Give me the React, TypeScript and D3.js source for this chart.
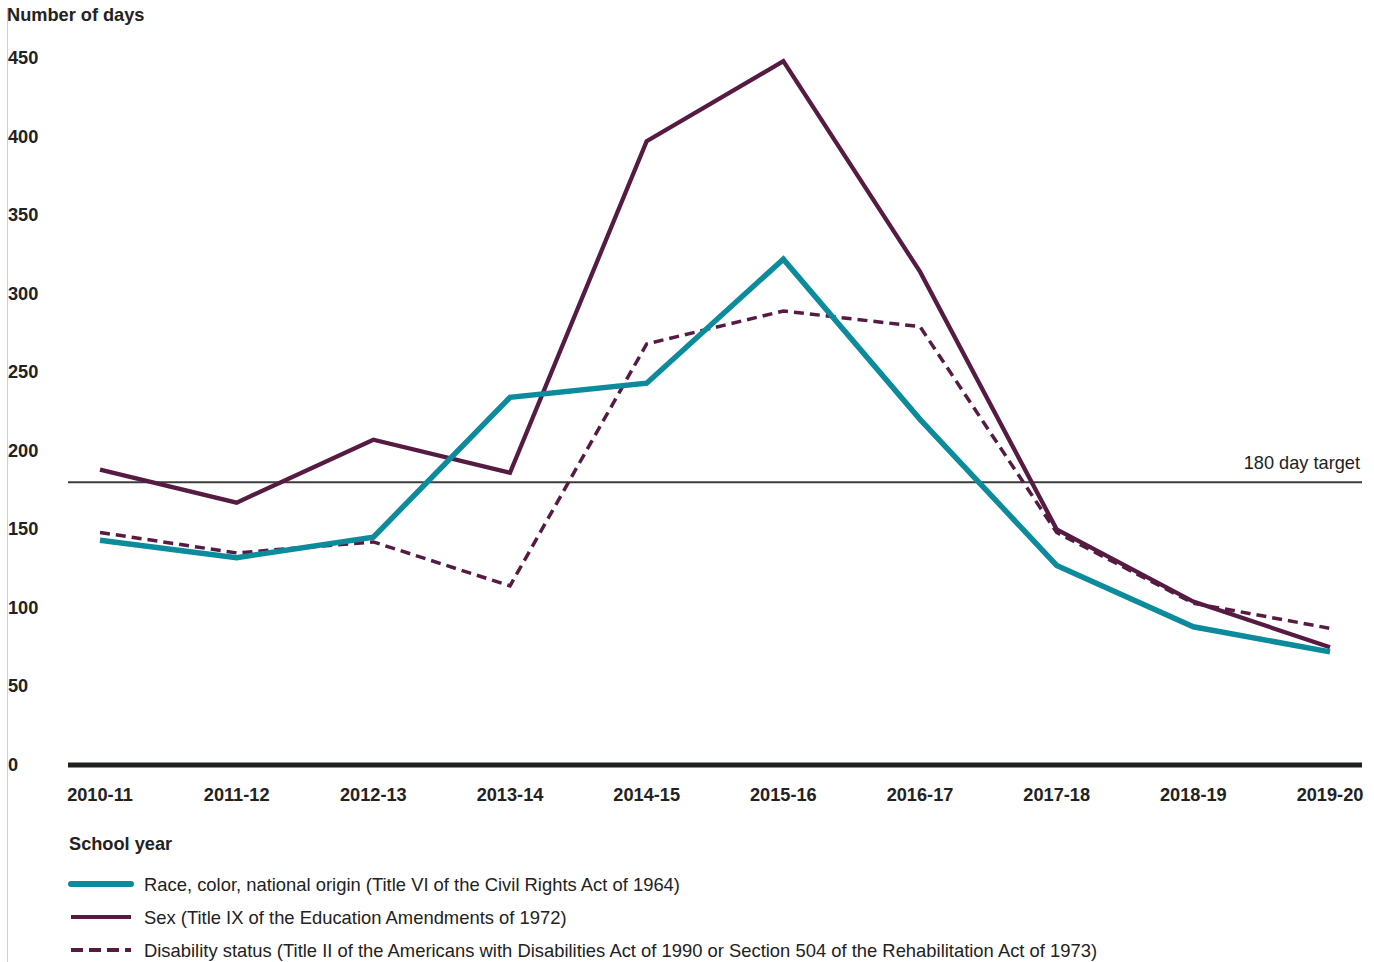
import React from "react";
import * as d3 from "d3";

const years = ["2010-11", "2011-12", "2012-13", "2013-14", "2014-15", "2015-16", "2016-17", "2017-18", "2018-19", "2019-20"];
const raceValues = [143, 132, 145, 234, 243, 322, 220, 127, 88, 72];
const sexValues = [188, 167, 207, 186, 397, 448, 314, 150, 104, 75];
const disabilityValues = [148, 135, 142, 114, 268, 289, 279, 148, 103, 87];
const yTicks = [0, 50, 100, 150, 200, 250, 300, 350, 400, 450];
const target = 180;

const TEAL = "#0b8b9b";
const PLUM = "#561b42";
const FONT = "'Liberation Sans', Arial, sans-serif";

const W = 1374;
const H = 962;

const App = () => {
  const x = d3.scalePoint<string>().domain(years).range([100, 1330]);
  const y = d3.scaleLinear().domain([0, 450]).range([765, 58]);

  const line = d3
    .line<number>()
    .x((d, i) => x(years[i]) as number)
    .y(d => y(d));

  const series = [
    { label: "Race, color, national origin (Title VI of the Civil Rights Act of 1964)", values: raceValues, color: TEAL, width: 5.5, dash: null },
    { label: "Sex (Title IX of the Education Amendments of 1972)", values: sexValues, color: PLUM, width: 4.3, dash: null },
    { label: "Disability status (Title II of the Americans with Disabilities Act of 1990 or Section 504 of the Rehabilitation Act of 1973)", values: disabilityValues, color: PLUM, width: 3.5, dash: "10,6" },
  ];

  return (
    <svg
      width={W}
      height={H}
      style={{ position: "absolute", left: 0, top: 0, fontFamily: FONT }}
    >
      <rect width={W} height={H} fill="#fff" />
      <line x1={7.5} x2={7.5} y1={8} y2={H} stroke="#d0d0d0" strokeWidth={1} />

      <text x={7} y={21} fontSize={18.2} fontWeight="bold" fill="#222">
        Number of days
      </text>

      {yTicks.map(t => (
        <text key={t} x={8} y={y(t) + 6} fontSize={18.2} fontWeight="bold" fill="#222">
          {t}
        </text>
      ))}

      <line x1={68} x2={1362} y1={y(target)} y2={y(target)} stroke="#3c3c3c" strokeWidth={2} />
      <text x={1360} y={y(target) - 13} fontSize={18.2} textAnchor="end" fill="#222">
        180 day target
      </text>

      {series
        .slice()
        .reverse()
        .map(s => (
          <path
            key={s.label}
            d={line(s.values) || ""}
            fill="none"
            stroke={s.color}
            strokeWidth={s.width}
            strokeDasharray={s.dash || undefined}
            strokeLinejoin="miter"
          />
        ))}

      <line x1={68} x2={1362} y1={y(0)} y2={y(0)} stroke="#1f211d" strokeWidth={5} />

      {years.map(yr => (
        <text
          key={yr}
          x={x(yr)}
          y={801}
          fontSize={18.2}
          fontWeight="bold"
          textAnchor="middle"
          fill="#222"
        >
          {yr}
        </text>
      ))}

      <text x={69} y={850} fontSize={18.2} fontWeight="bold" fill="#222">
        School year
      </text>

      {series.map((s, i) => {
        const ly = 884 + i * 33;
        return (
          <g key={s.label}>
            <line
              x1={71}
              x2={131}
              y1={ly}
              y2={ly}
              stroke={s.color}
              strokeWidth={s.dash ? 4 : i === 0 ? 6 : 4}
              strokeLinecap={i === 0 ? "round" : "butt"}
              strokeDasharray={s.dash ? "12,6" : undefined}
            />
            <text x={144} y={ly + 7} fontSize={18.4} fill="#222">
              {s.label}
            </text>
          </g>
        );
      })}
    </svg>
  );
};

export default App;
